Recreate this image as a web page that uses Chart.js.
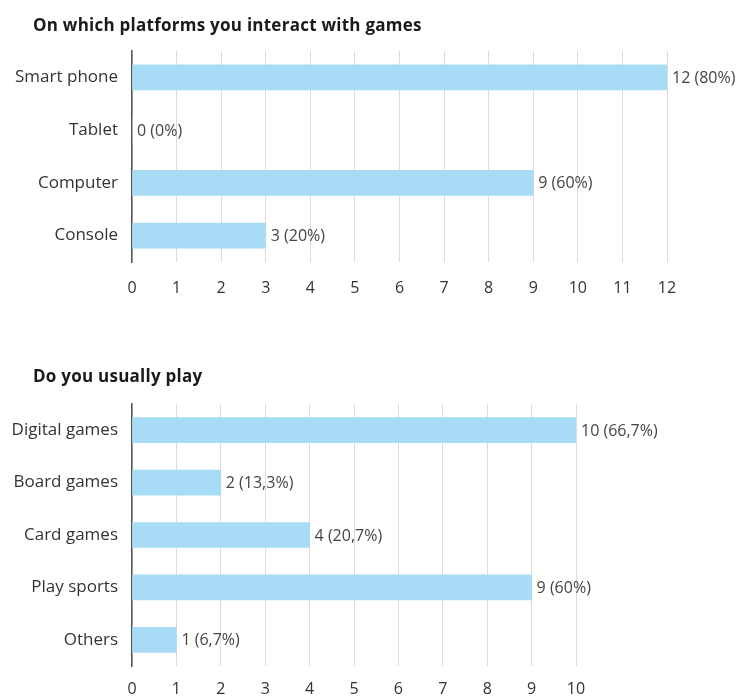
<!DOCTYPE html>
<html>
<head>
<meta charset="utf-8">
<script src="https://cdn.jsdelivr.net/npm/chart.js@4"></script>
<style>
  html, body { margin: 0; padding: 0; background: #fff; }
  body { width: 745px; height: 697px; position: relative; overflow: hidden; }
  canvas { position: absolute; left: 0; }
  .title { position: absolute; font-family: "Open Sans", sans-serif; font-weight: 700; font-size: 17px; line-height: 23px; color: #1a1a1a; white-space: nowrap; letter-spacing: 0.25px; }
</style>
</head>
<body>
<canvas id="c1" width="745" height="310" style="top:0px;"></canvas>
<canvas id="c2" width="745" height="367" style="top:330px;"></canvas>
<div class="title" id="t1" style="left:33px; top:13px;">On which platforms you interact with games</div>
<div class="title" id="t2" style="left:33px; top:364px;">Do you usually play</div>
<script>
const platformCategories = ['Smart phone', 'Tablet', 'Computer', 'Console'];
const platformValues = [12, 0, 9, 3];
const platformPercents = ['80%', '0%', '60%', '20%'];
const platformTicks = [0, 1, 2, 3, 4, 5, 6, 7, 8, 9, 10, 11, 12];

const playCategories = ['Digital games', 'Board games', 'Card games', 'Play sports', 'Others'];
const playValues = [10, 2, 4, 9, 1];
const playPercents = ['66,7%', '13,3%', '20,7%', '60%', '6,7%'];
const playTicks = [0, 1, 2, 3, 4, 5, 6, 7, 8, 9, 10];

const FONT = '"Open Sans", sans-serif';
const BAR = '#a8dcf6';

function valueLabelPlugin(percents) {
  return {
    id: 'valueLabels',
    afterDatasetsDraw(chart) {
      const ctx = chart.ctx;
      const meta = chart.getDatasetMeta(0);
      const data = chart.data.datasets[0].data;
      ctx.save();
      ctx.font = '16px ' + FONT;
      ctx.fillStyle = '#444';
      ctx.textBaseline = 'middle';
      ctx.textAlign = 'left';
      meta.data.forEach((bar, i) => {
        ctx.fillText(data[i] + ' (' + percents[i] + ')', bar.x + 5, bar.y + 1);
      });
      ctx.restore();
    }
  };
}

function makeChart(id, cats, vals, pcts, ticks, opts) {
  return new Chart(document.getElementById(id), {
    type: 'bar',
    data: {
      labels: cats,
      datasets: [{ data: vals, backgroundColor: BAR, borderWidth: 0, barThickness: 25 }]
    },
    options: {
      indexAxis: 'y',
      responsive: false,
      animation: false,
      layout: { padding: { top: opts.padTop, bottom: opts.padBottom, right: opts.padRight, left: 0 } },
      plugins: { legend: { display: false }, title: { display: false }, tooltip: { enabled: false } },
      scales: {
        x: {
          type: 'linear',
          min: ticks[0],
          max: ticks[ticks.length - 1],
          afterBuildTicks(scale) { scale.ticks = ticks.map(v => ({ value: v })); },
          afterFit(scale) { scale.height = opts.xHeight; },
          grid: { color: '#dcdcdc', lineWidth: 1, drawTicks: false },
          border: { display: false },
          ticks: { font: { family: FONT, size: 16 }, color: '#333', padding: opts.tickPad, autoSkip: false, maxRotation: 0 }
        },
        y: {
          afterFit(scale) { scale.width = 132; },
          grid: { display: false },
          border: { display: true, color: '#555', width: 1.5 },
          ticks: { font: { family: FONT, size: 17 }, color: '#333', padding: 6 }
        }
      }
    },
    plugins: [valueLabelPlugin(pcts)]
  });
}

makeChart('c1', platformCategories, platformValues, platformPercents, platformTicks,
  { padTop: 51, padBottom: 8, padRight: 745 - 667, xHeight: 40, tickPad: 17 });
makeChart('c2', playCategories, playValues, playPercents, playTicks,
  { padTop: 74, padBottom: 0, padRight: 745 - 576, xHeight: 31, tickPad: 14 });
</script>
</body>
</html>
